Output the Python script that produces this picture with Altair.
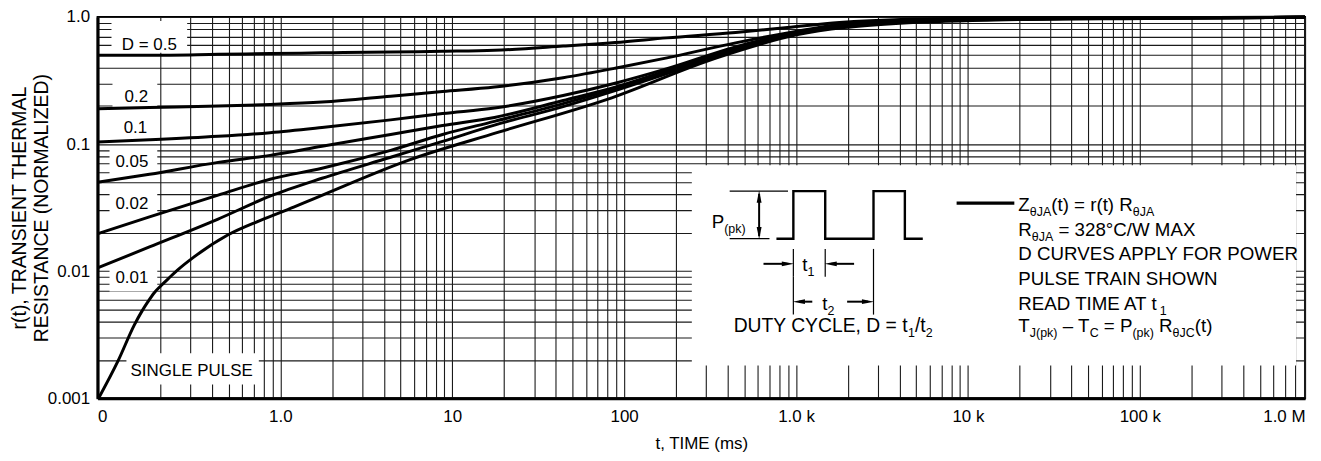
import altair as alt
import pandas as pd

FONT = "Liberation Sans"

# ---------------- axes / ticks ----------------
x_domain = [0.0865, 913700]
x_tick_values = [0.0865, 1, 10, 100, 1000, 10000, 100000, 913700]
x_tick_labels = ["0", "1.0", "10", "100", "1.0 k", "10 k", "100 k", "1.0 M"]
x_grid_decades = [0.1, 1, 10, 100, 1000, 10000, 100000]
y_tick_values = [0.001, 0.01, 0.1, 1.0]
y_tick_labels = ["0.001", "0.01", "0.1", "1.0"]
grid_multipliers = [1, 2, 3, 4, 5, 6, 7, 8, 9]

# ---------------- curves (t in ms, r normalized) ----------------
t_std = [0.0865, 0.1733, 0.4347, 0.8716, 1.747, 4.383, 8.785, 17.61, 44.17, 88.54, 177.5, 445.1,
         892.4, 1788, 4486, 8995, 90660, 913700]
r_d05 = [0.50, 0.50, 0.508, 0.515, 0.522, 0.53, 0.537, 0.547, 0.59, 0.63, 0.685, 0.756, 0.828, 0.906, 0.96, 0.973, 0.986, 1.0]
r_d02 = [0.19, 0.194, 0.199, 0.205, 0.214, 0.238, 0.259, 0.281, 0.333, 0.395, 0.477, 0.626, 0.749, 0.874, 0.947, 0.964, 0.982, 0.995]
r_d01 = [0.104, 0.108, 0.115, 0.123, 0.135, 0.155, 0.174, 0.192, 0.241, 0.301, 0.392, 0.582, 0.73, 0.866, 0.942, 0.959, 0.982, 0.995]
r_d005 = [0.050, 0.0578, 0.0718, 0.0815, 0.096, 0.119, 0.140, 0.162, 0.22, 0.28, 0.378, 0.567, 0.723, 0.858, 0.939, 0.959, 0.982, 0.995]
r_d002 = [0.0197, 0.0267, 0.0396, 0.0529, 0.0645, 0.0891, 0.119, 0.151, 0.208, 0.273, 0.368, 0.556, 0.716, 0.85, 0.936, 0.957, 0.982, 0.995]
r_d001 = [0.0106, 0.0155, 0.0257, 0.0389, 0.0538, 0.0787, 0.105, 0.141, 0.197, 0.263, 0.358, 0.547, 0.71, 0.846, 0.934, 0.956, 0.982, 0.995]
t_single = [0.08765, 0.1134, 0.1416, 0.1555, 0.1691, 0.1849, 0.2021, 0.2258, 0.2522,
            0.3151, 0.4913, 0.7668, 1.196, 1.561, 5.539, 18.39, 79.70, 345.6, 1004, 3808, 14450,
            106700, 913000]
r_single = [0.001, 0.001949, 0.003779, 0.004760, 0.005700, 0.006766, 0.007678,
            0.008867, 0.01019, 0.01295, 0.01915, 0.02510, 0.03191, 0.03707, 0.07448, 0.1235, 0.2250,
            0.4774, 0.7228, 0.8894, 0.9473, 0.9733, 0.9946]

# curve labels
label_texts = ["D = 0.5", "0.2", "0.1", "0.05", "0.02", "0.01", "SINGLE PULSE"]
label_t = [0.1729, 0.1454, 0.1435, 0.1370, 0.1370, 0.1370, 0.3049]
label_r = [0.604, 0.236, 0.133, 0.0718, 0.034, 0.0089, 0.00163]

# white boxes (grid hidden behind labels / legend)
box_t1 = [247.6, 0.1042, 0.1056, 0.1015, 0.1015, 0.1015, 0.1273]
box_t2 = [810000, 0.2871, 0.1924, 0.1924, 0.1924, 0.1924, 0.7497]
box_r1 = [0.00181, 0.522, 0.197, 0.0578, 0.0272, 0.00691, 0.00128]
box_r2 = [0.068, 0.93, 0.315, 0.0959, 0.0434, 0.0114, 0.00226]

# ---------------- helpers ----------------
xs = alt.Scale(type="log", domain=x_domain, nice=False)
ys = alt.Scale(type="log", domain=[0.001, 1.0], nice=False)

gx = sorted({round(m * d, 6) for d in x_grid_decades for m in grid_multipliers} - {0.1})
gx = [v for v in gx if v < x_domain[1]] + [x_tick_values[0], x_tick_values[-1]]
gx = sorted(set(gx))
gy = sorted({round(m * d, 8) for d in y_tick_values[:-1] for m in grid_multipliers} | {y_tick_values[-1]})

def lab_expr(vals, labs):
    return " : ".join(f"datum.value == {v} ? '{l}'" for v, l in zip(vals, labs)) + " : ''"

x_axis = alt.Axis(values=gx, labelExpr=lab_expr(x_tick_values, x_tick_labels), title="t, TIME (ms)",
                  grid=True, ticks=False, labelFlush=True, labelPadding=10, titlePadding=11)
y_axis = alt.Axis(values=gy, labelExpr=lab_expr(y_tick_values, y_tick_labels),
                  title=["r(t), TRANSIENT THERMAL", "RESISTANCE (NORMALIZED)"],
                  grid=True, ticks=False, labelPadding=8, titleX=-68, titleLineHeight=22)

def X(field="t", **kw):
    return alt.X(f"{field}:Q", scale=xs, axis=x_axis, **kw)

def Y(field="r", **kw):
    return alt.Y(f"{field}:Q", scale=ys, axis=y_axis, **kw)

W = {" ": 278, "(": 333, ")": 333, ",": 278, ".": 278, "/": 278, "=": 584, "–": 556, "°": 400,
     "A": 667, "C": 722, "D": 722, "E": 667, "F": 611, "H": 722, "I": 278, "J": 500, "L": 556,
     "M": 833, "N": 722, "O": 778, "P": 667, "R": 722, "S": 667, "T": 611, "U": 722, "V": 667,
     "W": 944, "X": 667, "Y": 667, "Z": 611, "G": 778, "K": 667, "p": 556, "k": 500, "r": 333,
     "t": 278, "m": 833, "s": 500, "θ": 556}

def tw(s, size):
    return sum(W.get(c, 556) for c in s) * size / 1000.0

def text_run(segments, t0, r0, size=18.8, sub_size=12.5, sub_dy=5):
    layers = []
    dx = 0.0
    for txt, sub in segments:
        fs = sub_size if sub else size
        lead = len(txt) - len(txt.lstrip(" "))
        core = txt.strip(" ")
        off = dx + tw(" " * lead, fs)
        layers.append(
            alt.Chart(pd.DataFrame({"t": [t0], "r": [r0], "s": [core]}))
            .mark_text(align="left", baseline="alphabetic", dx=off, dy=(sub_dy if sub else 0),
                       fontSize=fs, font=FONT, color="black")
            .encode(x=X(), y=Y(), text="s:N")
        )
        dx += tw(txt, fs)
    return layers

# ---------------- data frames ----------------
rows = []
for name, rv in [("0.5", r_d05), ("0.2", r_d02), ("0.1", r_d01), ("0.05", r_d005), ("0.02", r_d002), ("0.01", r_d001)]:
    for i, (t, r) in enumerate(zip(t_std, rv)):
        rows.append({"t": t, "r": r, "curve": name, "i": i})
for i, (t, r) in enumerate(zip(t_single, r_single)):
    rows.append({"t": t, "r": r, "curve": "single", "i": i})
curves_df = pd.DataFrame(rows)

boxes_df = pd.DataFrame({"t": box_t1, "t2": box_t2, "r": box_r1, "r2": box_r2})
labels_df = pd.DataFrame({"t": label_t, "r": label_r, "s": label_texts})

# legend graphic (pulse train) in data coordinates
wave_t = [769.0, 964.6, 964.6, 1478, 1478, 2822, 2822, 4295, 4295, 5460]
wave_r = [0.0180, 0.0180, 0.0426, 0.0426, 0.0180, 0.0180, 0.0426, 0.0426, 0.0180, 0.0180]
thin_seg = [  # (t_a, r_a, t_b, r_b)
    (411.0, 0.0426, 897.8, 0.0426),
    (411.0, 0.0180, 700.5, 0.0180),
    (964.6, 0.01496, 964.6, 0.00903),
    (1478, 0.01496, 1478, 0.00903),
    (964.6, 0.00903, 964.6, 0.00455),
    (2822, 0.01496, 2822, 0.00455),
]
shaft_seg = [
    (609.8, 0.0405, 609.8, 0.0189),
    (646.6, 0.01142, 890.6, 0.01142),
    (2176, 0.01142, 1601, 0.01142),
    (1243, 0.005752, 1040, 0.005752),
    (1982, 0.005752, 2622, 0.005752),
]
sample_seg = [(8590, 0.0343, 18610, 0.0343)]
heads_t = [896.6, 1590, 1038, 2622, 609.8, 609.8]
heads_r = [0.01142, 0.01142, 0.005752, 0.005752, 0.03857, 0.01989]
heads_shape = ["M-1,-0.4L1,0L-1,0.4Z", "M1,-0.4L-1,0L1,0.4Z", "M1,-0.4L-1,0L1,0.4Z",
               "M-1,-0.4L1,0L-1,0.4Z", "M-0.4,1L0,-1L0.4,1Z", "M-0.4,-1L0,1L0.4,-1Z"]

def seg_df(segs):
    rr = []
    for k, (ta, ra, tb, rb) in enumerate(segs):
        rr.append({"t": ta, "r": ra, "g": k, "i": 0})
        rr.append({"t": tb, "r": rb, "g": k, "i": 1})
    return pd.DataFrame(rr)

wave_df = pd.DataFrame({"t": wave_t, "r": wave_r, "i": list(range(len(wave_t)))})
heads_df = pd.DataFrame({"t": heads_t, "r": heads_r, "shape": heads_shape})

# ---------------- layers ----------------
boxes = alt.Chart(boxes_df).mark_rect(color="white").encode(x=X(), x2="t2:Q", y=Y(), y2="r2:Q")

curves = alt.Chart(curves_df).mark_line(color="black", strokeWidth=3, interpolate="monotone").encode(
    x=X(), y=Y(), detail="curve:N", order="i:Q")

labels = alt.Chart(labels_df).mark_text(font=FONT, fontSize=17, color="black", align="center",
                                        baseline="middle").encode(x=X(), y=Y(), text="s:N")

wave = alt.Chart(wave_df).mark_line(color="black", strokeWidth=2.4).encode(x=X(), y=Y(), order="i:Q")
thin = alt.Chart(seg_df(thin_seg)).mark_line(color="black", strokeWidth=1.2).encode(
    x=X(), y=Y(), detail="g:N", order="i:Q")
shafts = alt.Chart(seg_df(shaft_seg)).mark_line(color="black", strokeWidth=2).encode(
    x=X(), y=Y(), detail="g:N", order="i:Q")
sample = alt.Chart(seg_df(sample_seg)).mark_line(color="black", strokeWidth=3.4).encode(
    x=X(), y=Y(), detail="g:N", order="i:Q")
heads = alt.Chart(heads_df).mark_point(filled=True, color="black", opacity=1, size=150, strokeWidth=0).encode(
    x=X(), y=Y(), shape=alt.Shape("shape:N", scale=None))

legend_t0 = 19640
legend_lines = [
    ([("Z", 0), ("θJA", 1), ("(t) = r(t) R", 0), ("θJA", 1)], 0.02970),
    ([("R", 0), ("θJA", 1), (" = 328°C/W MAX", 0)], 0.01891),
    ([("D CURVES APPLY FOR POWER", 0)], 0.01227),
    ([("PULSE TRAIN SHOWN", 0)], 0.00782),
    ([("READ TIME AT t", 0), ("1", 1)], 0.00498),
    ([("T", 0), ("J(pk)", 1), (" – T", 0), ("C", 1), (" = P", 0), ("(pk)", 1), (" R", 0), ("θJC", 1), ("(t)", 0)], 0.00330),
]
text_layers = []
for segs, r0 in legend_lines:
    text_layers += text_run(segs, legend_t0, r0)
text_layers += text_run([("DUTY CYCLE, D = t", 0), ("1", 1), ("/t", 0), ("2", 1)], 433.5, 0.00330, size=19.4)
text_layers += text_run([("P", 0), ("(pk)", 1)], 323.2, 0.02185)
text_layers += text_run([("t", 0), ("1", 1)], 1088, 0.01006)
text_layers += text_run([("t", 0), ("2", 1)], 1420, 0.00498)

chart = alt.layer(boxes, curves, labels, wave, thin, shafts, sample, heads, *text_layers).properties(
    width=1213, height=383,
    autosize=alt.AutoSizeParams(type="none"),
    padding={"left": 90, "top": 8, "right": 8, "bottom": 56},
).configure_view(stroke="black", strokeWidth=2).configure_axis(
    labelFont=FONT, labelFontSize=17, labelColor="black",
    titleFont=FONT, titleFontSize=17, titleColor="black", titleFontWeight="normal",
    gridColor="#1a1a1a", gridWidth=1.1, gridOpacity=1,
    domainColor="black", domainWidth=3,
).configure_axisY(titleFontSize=19.5)

chart.save("out.html", embed_options={"renderer": "svg", "actions": False})
